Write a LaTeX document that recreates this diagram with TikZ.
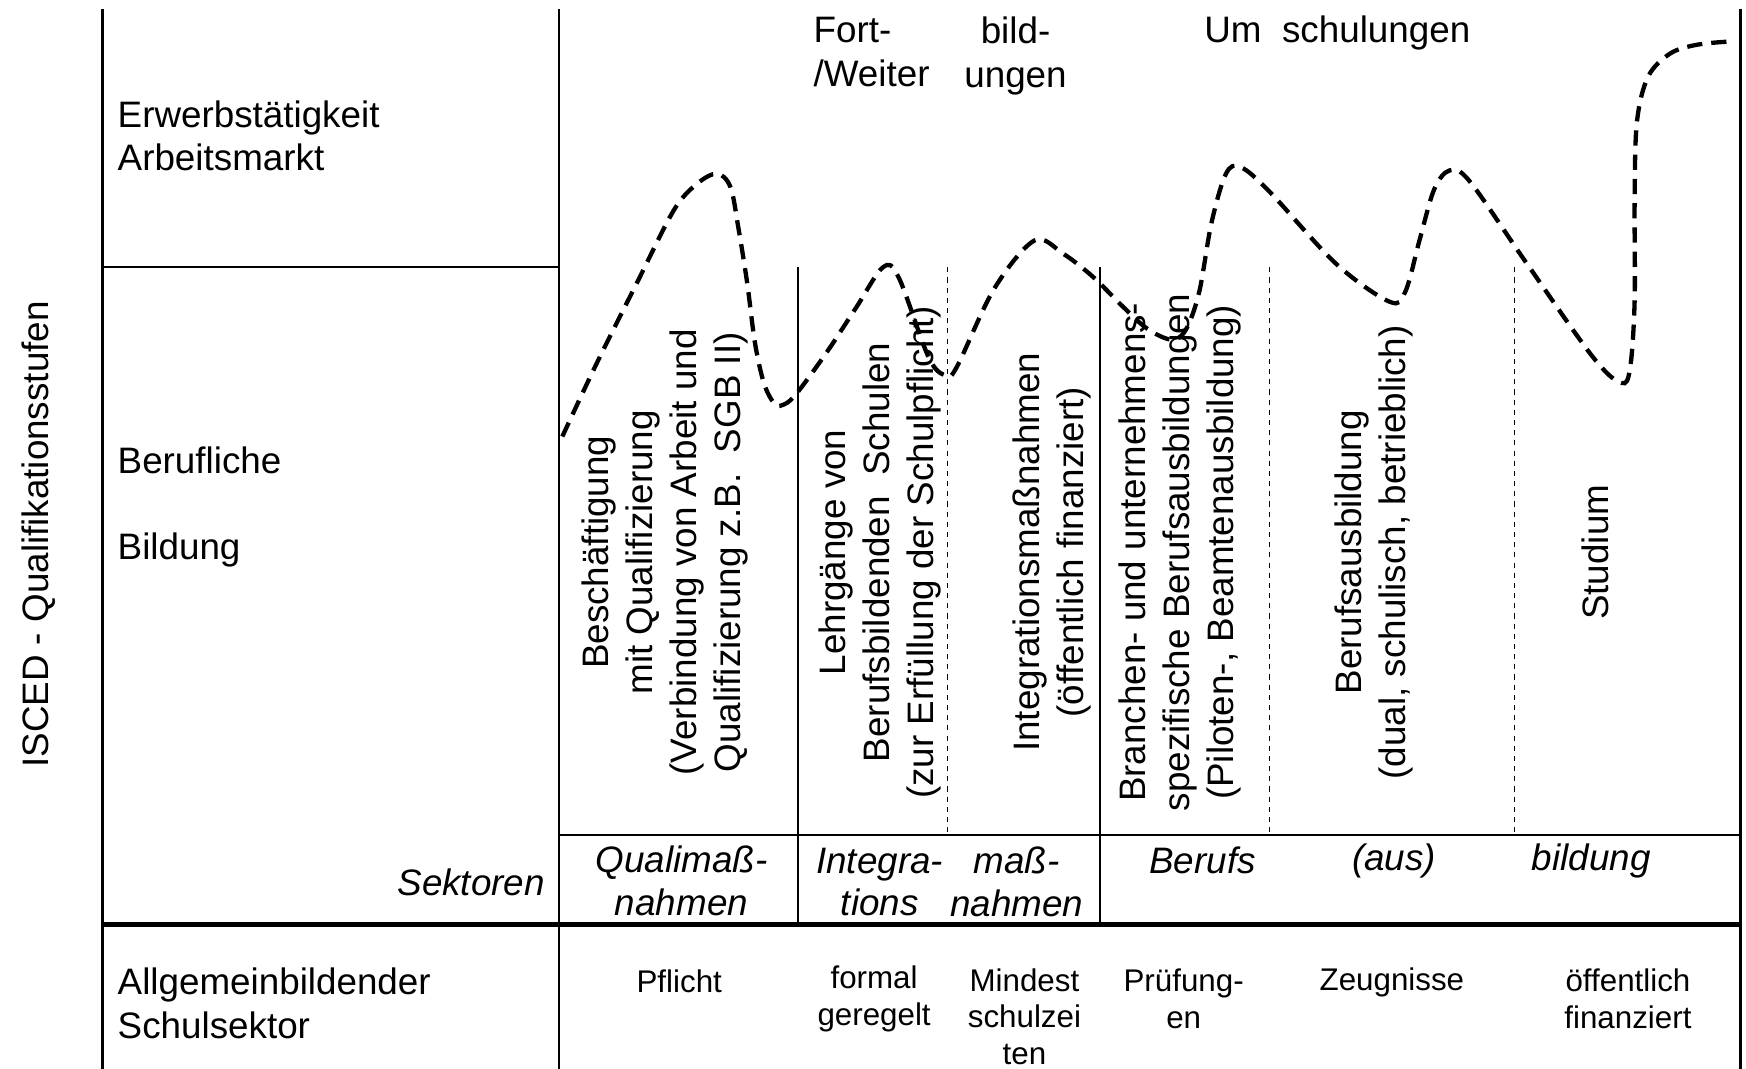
\documentclass[tikz,border=0pt]{standalone}
\usepackage{fontspec}
\setmainfont{Liberation Sans}
\begin{document}
\begin{tikzpicture}[x=0.01cm, y=-0.01cm,
    lbl/.style={font=\fontsize{9.4}{11.2}\selectfont, inner sep=0pt},
    coltext/.style={lbl, rotate=90, align=center},
    sektor/.style={font=\fontsize{9.4}{10.8}\selectfont\itshape, inner sep=0pt, align=center},
    merkmal/.style={font=\fontsize{8}{9.4}\selectfont, inner sep=0pt, align=center},
    frame/.style={line width=0.55pt},
    thickframe/.style={line width=1.3pt},
    sep/.style={line width=0.4pt, dash pattern=on 1.3pt off 1.3pt},
    wave/.style={line width=1.1pt, dash pattern=on 3.9pt off 2.3pt}]

\useasboundingbox (0,0) rectangle (1568,960);

\draw[frame] (92,8) -- (92,960);
\draw[frame] (502,8) -- (502,960);
\draw[frame] (1563,8) -- (1563,960);
\draw[frame] (92,240) -- (502,240);
\draw[frame] (502,750) -- (1563,750);
\draw[thickframe] (92,830) -- (1563,830);
\draw[frame] (717,240) -- (717,830);
\draw[frame] (988,240) -- (988,830);
\foreach \x in {851,1140,1360} \draw[sep] (\x,240) -- (\x,750);

\node[coltext] (isced) at (35,480) {ISCED - Qualifikationsstufen};
\node[lbl, anchor=west, align=left] (erwerb) at (105,122) {Erwerbstätigkeit\\Arbeitsmarkt};
\node[lbl, anchor=west, align=left] (beruf) at (105,455) {Berufliche\\[10.7pt]Bildung};
\node[lbl, anchor=west, align=left] (allg) at (105,901) {Allgemeinbildender\\Schulsektor};
\node[sektor, anchor=east] (sektoren) at (490,792) {Sektoren};

\node[lbl, anchor=west, align=left] (fort) at (730,47) {Fort-\\/Weiter};
\node[lbl, align=center] (bild) at (912,50) {bild-\\ungen};
\node[lbl] (um) at (1201,30) {Um\ \ schulungen};

\node[coltext] (qualib) at (597,496) {Beschäftigung\\mit Qualifizierung\\(Verbindung von Arbeit und\\Qualifizierung z.B.\ \ SGB II)};
\node[coltext] (lehrg) at (790,496) {Lehrgänge von\\Berufsbildenden\ \ Schulen\\(zur Erfüllung der Schulpflicht)};
\node[coltext] (integ) at (945,496) {Integrationsmaßnahmen\\(öffentlich finanziert)};
\node[coltext] (branche) at (1060,496) {Branchen- und unternehmens-\\spezifische Berufsausbildungen\\(Piloten-, Beamtenausbildung)};
\node[coltext] (ausb) at (1234,496) {Berufsausbildung\\(dual,\ schulisch,\ betrieblich)};
\node[coltext] (studium) at (1433,496) {Studium};

\node[sektor] (quali) at (612,791) {Qualimaß-\\nahmen};
\node[sektor] (integra) at (790,792) {Integra-\\tions};
\node[sektor] (mass) at (913,792) {maß-\\nahmen};
\node[sektor] (berufs) at (1080,773) {Berufs};
\node[sektor] (aus) at (1252,773) {(aus)};
\node[sektor] (bildung) at (1429,773) {bildung};

\node[merkmal] (pflicht) at (610,881) {Pflicht};
\node[merkmal] (formal) at (785,897) {formal\\geregelt};
\node[merkmal] (mindest) at (920,913) {Mindest\\schulzei\\ten};
\node[merkmal] (pruef) at (1063,897) {Prüfung-\\en};
\node[merkmal] (zeug) at (1250,882) {Zeugnisse};
\node[merkmal] (oeff) at (1462,897) {öffentlich\\finanziert};

\draw[wave] plot[smooth, tension=0.55] coordinates {(505,392) (536,326) (572,254) (605,189) (626,165) (644,156) (656,168) (663,204) (671,254) (678,308) (686,344) (695,362) (702,364) (714,355) (742,317) (769,276) (793,240) (807,249) (834,321) (849,337) (859,330) (893,259) (929,216) (955,228) (982,249) (1007,274) (1030,295) (1052,305) (1065,296) (1077,262) (1088,200) (1101,156) (1114,150) (1140,172) (1200,237) (1248,271) (1262,262) (1275,215) (1288,170) (1302,153) (1320,163) (1370,235) (1430,320) (1456,344) (1464,330) (1468,270) (1468,180) (1470,110) (1480,69) (1500,48) (1525,40) (1558,37)};

\end{tikzpicture}
\end{document}
